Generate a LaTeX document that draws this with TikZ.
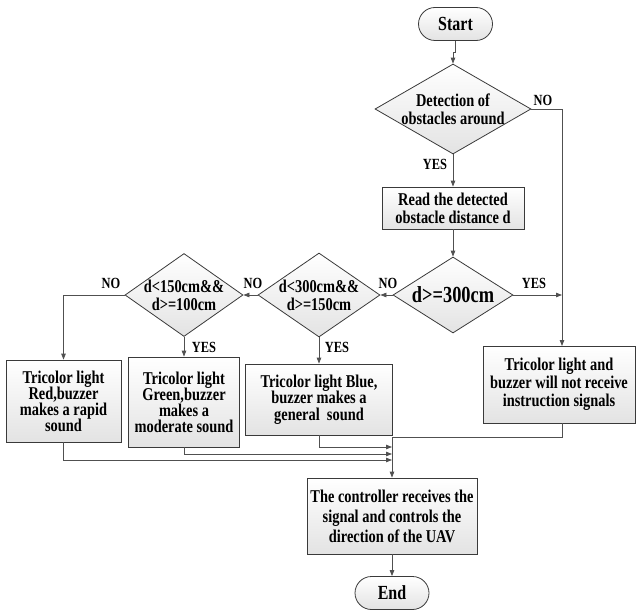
\documentclass[tikz,border=0pt]{standalone}
\usepackage{fontspec}
\setmainfont{Liberation Serif}[FakeStretch=0.8]
\usetikzlibrary{shapes.geometric,arrows.meta}
\definecolor{linegray}{HTML}{505050}
\definecolor{boxgray}{HTML}{3A3A3A}
\begin{document}
\lineskiplimit=-50pt
\begin{tikzpicture}[x=1pt,y=-1pt,
  line/.style={draw=linegray, line width=0.8pt},
  arr/.style={line, -{Triangle[length=6pt,width=4.5pt]}},
  shadebox/.style={draw=boxgray, line width=0.8pt, top color=white, bottom color=gray!22, inner sep=0pt},
  box/.style={shadebox, rectangle, align=center, font=\bfseries\fontsize{18}{#1}\selectfont},
  term/.style={shadebox, rectangle, rounded corners=16.5pt, minimum width=74pt, minimum height=33pt, font=\bfseries\fontsize{20}{20}\selectfont},
  dia/.style={shadebox, diamond},
  txt/.style={align=center, inner sep=0pt, font=\bfseries\fontsize{#1}{18}\selectfont},
  lab/.style={inner sep=0pt, font=\bfseries\fontsize{15.5}{15.5}\selectfont}
]
\useasboundingbox (0,0) rectangle (636,610);
% nodes
\node[term] (start) at (455.5,24) {Start};
\node[dia, minimum width=156pt, minimum height=90pt] (d1) at (453,109) {};
\node[txt=18] (d1t) at (d1) {Detection of\\obstacles around};
\node[box=18, minimum width=142pt, minimum height=42pt] (read) at (453,208) {Read the detected\\obstacle distance d};
\node[dia, minimum width=120pt, minimum height=76pt] (d2) at (453,295) {};
\node[txt=23] (d2t) at (d2) {d>=300cm};
\node[box=18, minimum width=152pt, minimum height=77pt] (nosig) at (559,384.5) {Tricolor light and\\buzzer will not receive\\instruction signals};
\node[dia, minimum width=122pt, minimum height=84pt] (d3) at (319,295) {};
\node[txt=18] (d3t) at (d3) {d<300cm\&\&\\d>=150cm};
\node[dia, minimum width=118pt, minimum height=83pt] (d4) at (184,295) {};
\node[txt=18] (d4t) at (d4) {d<150cm\&\&\\d>=100cm};
\node[box=16, minimum width=115pt, minimum height=82pt] (red) at (63.5,401) {Tricolor light\\Red,buzzer\\makes a rapid\\sound};
\node[box=16, minimum width=111pt, minimum height=90pt] (green) at (184,402) {Tricolor light\\Green,buzzer\\makes a\\moderate sound};
\node[box=16.7, minimum width=147pt, minimum height=71pt] (blue) at (319,399.5) {Tricolor light Blue,\\buzzer makes a\\general~ sound};
\node[box=20, minimum width=170pt, minimum height=76pt] (ctrl) at (392,516) {The controller receives the\\signal and controls the\\direction of the UAV};
\node[term] (end) at (392,593) {End};
% coordinates
\coordinate (nsin) at (562,346);
\coordinate (mx) at (392,437);
\coordinate (mb) at (392,447);
\coordinate (mg) at (392,454);
\coordinate (mr) at (392,460);
% connectors
\draw[arr] (start.south) -- ++(0,12) -| (d1.north);
\draw[arr] (d1.south) -- (read.north);
\draw[arr] (d1.east) -| (nsin);
\draw[arr] (read.south) -- (d2.north);
\draw[arr] (d2.east) -- (d2.east -| nsin);
\draw[arr] (d2.west) -- (d3.east);
\draw[arr] (d3.west) -- (d4.east);
\draw[arr] (d4.west) -| (red.north);
\draw[arr] (d4.south) -- (green.north);
\draw[arr] (d3.south) -- (blue.north);
\draw[arr] (nosig.south -| nsin) |- (mx) -- (ctrl.north);
\draw[arr] (blue.south) |- (mb);
\draw[arr] (green.south) |- (mg);
\draw[arr] (red.south) |- (mr);
\draw[arr] (ctrl.south) -- (end.north);
% labels
\node[lab] (l1) at (543,100) {NO};
\node[lab] (l2) at (435,164) {YES};
\node[lab] (l3) at (534,283) {YES};
\node[lab] (l4) at (388,283) {NO};
\node[lab] (l5) at (253,283) {NO};
\node[lab] (l6) at (111,283) {NO};
\node[lab] (l7) at (204,347) {YES};
\node[lab] (l8) at (337,347) {YES};
\end{tikzpicture}
\end{document}
